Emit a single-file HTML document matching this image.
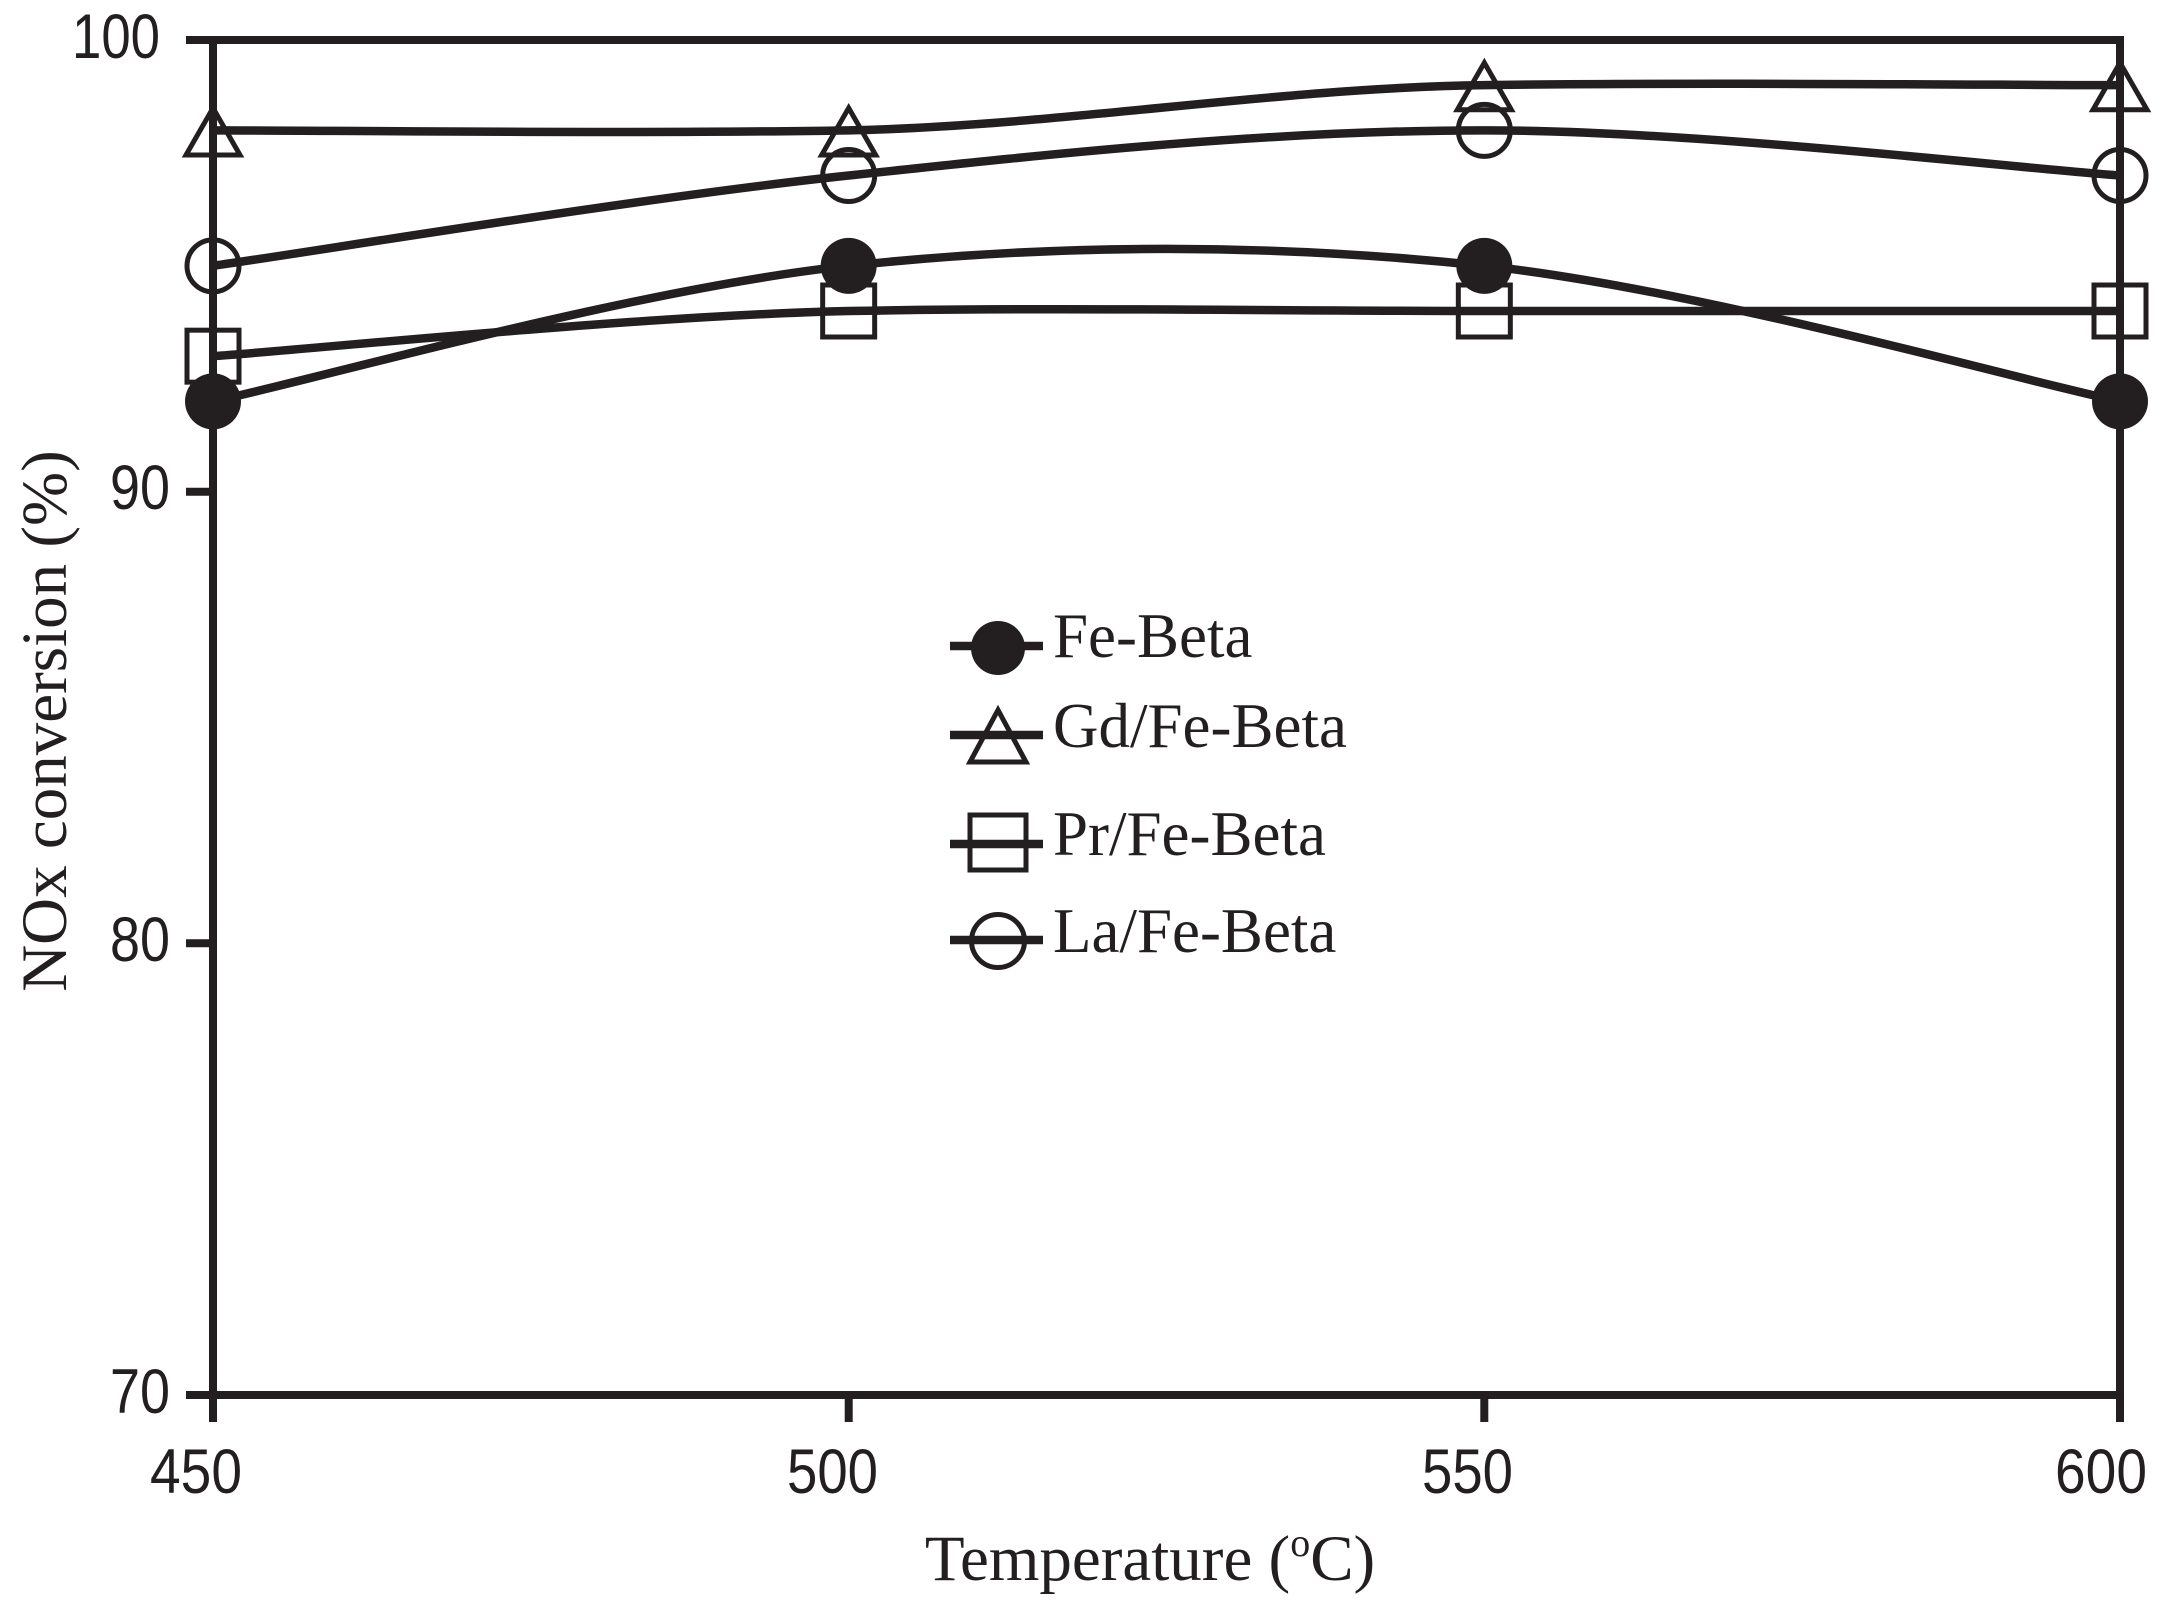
<!DOCTYPE html>
<html>
<head>
<meta charset="utf-8">
<style>
html,body{margin:0;padding:0;background:#fff;}
svg{display:block;}
</style>
</head>
<body>
<svg width="2173" height="1602" viewBox="0 0 2173 1602" xmlns="http://www.w3.org/2000/svg">
<rect x="0" y="0" width="2173" height="1602" fill="#fff"/>
<g stroke="#231f20" fill="none" stroke-linecap="butt">
  <!-- axes frame -->
  <rect x="213" y="40" width="1907" height="1355" stroke-width="8"/>
  <!-- y ticks -->
  <line x1="186" y1="40" x2="213" y2="40" stroke-width="8"/>
  <line x1="186" y1="491.7" x2="213" y2="491.7" stroke-width="8"/>
  <line x1="186" y1="943.3" x2="213" y2="943.3" stroke-width="8"/>
  <line x1="186" y1="1395" x2="213" y2="1395" stroke-width="8"/>
  <!-- x ticks -->
  <line x1="213" y1="1395" x2="213" y2="1422" stroke-width="8"/>
  <line x1="848.7" y1="1395" x2="848.7" y2="1422" stroke-width="8"/>
  <line x1="1484.3" y1="1395" x2="1484.3" y2="1422" stroke-width="8"/>
  <line x1="2120" y1="1395" x2="2120" y2="1422" stroke-width="8"/>

  <!-- series lines -->
  <g stroke-width="8.5">
    <!-- Fe-Beta -->
    <path d="M213,401.33 C318.94,378.75 636.78,288.42 848.67,265.83 C1060.56,243.25 1272.44,243.25 1484.33,265.83 C1696.22,288.42 2014.06,378.75 2120,401.33"/>
    <!-- Gd/Fe-Beta -->
    <path d="M213,130.33 C318.94,130.33 636.78,134 848.67,130.33 C1060.56,126 1272.44,88 1484.33,85.17 C1696.22,82 2014.06,85.17 2120,85.17"/>
    <!-- Pr/Fe-Beta -->
    <path d="M213,356.17 C318.94,348.64 636.78,316 848.67,311 C1060.56,307 1272.44,311 1484.33,311 C1696.22,311 2014.06,311 2120,311"/>
    <!-- La/Fe-Beta -->
    <path d="M213,265.83 C318.94,250.78 636.78,198.08 848.67,175.5 C1060.56,152.92 1272.44,130.33 1484.33,130.33 C1696.22,130.33 2014.06,167.97 2120,175.5"/>
  </g>

  <!-- markers -->
  <g stroke-width="5">
    <!-- Fe-Beta filled circles -->
    <circle cx="213" cy="401.33" r="28" fill="#231f20" stroke="none"/>
    <circle cx="848.67" cy="265.83" r="28" fill="#231f20" stroke="none"/>
    <circle cx="1484.33" cy="265.83" r="28" fill="#231f20" stroke="none"/>
    <circle cx="2120" cy="401.33" r="28" fill="#231f20" stroke="none"/>
    <!-- Gd triangles -->
    <path d="M213,108 L240,155 L186,155 Z" stroke-linejoin="miter"/>
    <path d="M848.67,108 L875.67,155 L821.67,155 Z"/>
    <path d="M1484.33,62.8 L1511.33,109.8 L1457.33,109.8 Z"/>
    <path d="M2120,62.8 L2147,109.8 L2093,109.8 Z"/>
    <!-- Pr squares -->
    <rect x="187" y="330.17" width="52" height="52"/>
    <rect x="822.67" y="285" width="52" height="52"/>
    <rect x="1458.33" y="285" width="52" height="52"/>
    <rect x="2094" y="285" width="52" height="52"/>
    <!-- La circles -->
    <circle cx="213" cy="265.83" r="26"/>
    <circle cx="848.67" cy="175.5" r="26"/>
    <circle cx="1484.33" cy="130.33" r="26"/>
    <circle cx="2120" cy="175.5" r="26"/>
  </g>

  <!-- legend -->
  <g stroke-width="8.5">
    <line x1="950" y1="646" x2="1043" y2="646"/>
    <line x1="950" y1="735" x2="1043" y2="735"/>
    <line x1="950" y1="844" x2="1043" y2="844"/>
    <line x1="950" y1="940" x2="1043" y2="940"/>
  </g>
  <g stroke-width="5">
    <circle cx="998" cy="648" r="27" fill="#231f20" stroke="none"/>
    <path d="M998,710 L1026,762 L970,762 Z"/>
    <rect x="970" y="815" width="56" height="55"/>
    <circle cx="998" cy="941" r="26.5"/>
  </g>
</g>

<!-- legend text -->
<g font-family="'Liberation Serif', 'Times New Roman', serif" font-size="63" fill="#231f20">
  <text x="1053" y="657">Fe-Beta</text>
  <text x="1053" y="747">Gd/Fe-Beta</text>
  <text x="1053" y="855">Pr/Fe-Beta</text>
  <text x="1053" y="952">La/Fe-Beta</text>
</g>

<!-- tick labels -->
<g font-family="'Liberation Sans', Arial, sans-serif" font-size="63" fill="#231f20">
  <text x="72" y="58" textLength="88" lengthAdjust="spacingAndGlyphs">100</text>
  <text x="110" y="509" textLength="60" lengthAdjust="spacingAndGlyphs">90</text>
  <text x="110" y="961" textLength="60" lengthAdjust="spacingAndGlyphs">80</text>
  <text x="110" y="1413" textLength="60" lengthAdjust="spacingAndGlyphs">70</text>

  <text x="150" y="1493" textLength="92" lengthAdjust="spacingAndGlyphs">450</text>
  <text x="787" y="1493" textLength="91" lengthAdjust="spacingAndGlyphs">500</text>
  <text x="1422" y="1493" textLength="91" lengthAdjust="spacingAndGlyphs">550</text>
  <text x="2055" y="1493" textLength="92" lengthAdjust="spacingAndGlyphs">600</text>
</g>

<!-- axis titles -->
<g font-family="'Liberation Serif', 'Times New Roman', serif" font-size="65" fill="#231f20">
  <text x="1150" y="1580" text-anchor="middle">Temperature (<tspan font-size="40" dy="-24">o</tspan><tspan dy="24">C)</tspan></text>
  <text transform="translate(66,721) rotate(-90)" text-anchor="middle">NOx conversion (%)</text>
</g>
</svg>
</body>
</html>
